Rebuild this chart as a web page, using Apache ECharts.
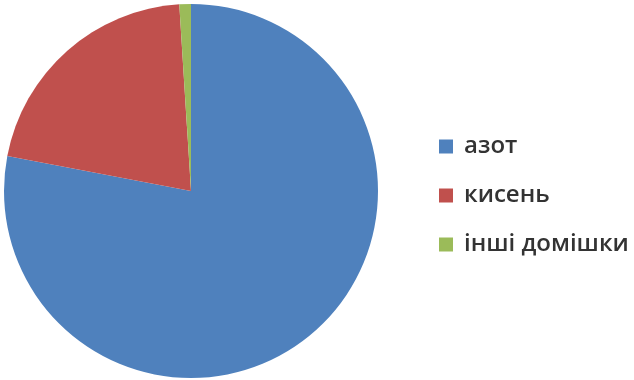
<!DOCTYPE html>
<html>
<head>
<meta charset="utf-8">
<script src="https://cdn.jsdelivr.net/npm/echarts@6/dist/echarts.min.js"></script>
<style>
  html, body { margin: 0; padding: 0; background: #fff; }
  #chart { width: 634px; height: 380px; }
</style>
</head>
<body>
<div id="chart"></div>
<script>
const names = ['азот', 'кисень', 'інші домішки'];
const values = [78, 21, 1];
const colors = ['#4F81BD', '#C0504D', '#9BBB59'];

const chart = echarts.init(document.getElementById('chart'));

chart.setOption({
  backgroundColor: '#fff',
  animation: false,
  color: colors,
  legend: {
    orient: 'vertical',
    left: 434,
    top: 129,
    itemWidth: 14,
    itemHeight: 14,
    itemGap: 24,
    icon: 'rect',
    textStyle: {
      fontFamily: 'Open Sans',
      fontSize: 24,
      fontWeight: 600,
      lineHeight: 25,
      color: '#333',
      padding: [0, 0, 0, 6]
    },
    data: names
  },
  series: [{
    type: 'pie',
    center: [191, 191],
    radius: 187,
    startAngle: 90,
    clockwise: true,
    label: { show: false },
    labelLine: { show: false },
    itemStyle: { borderWidth: 0 },
    data: names.map((n, i) => ({ name: n, value: values[i] }))
  }]
});
</script>
</body>
</html>
